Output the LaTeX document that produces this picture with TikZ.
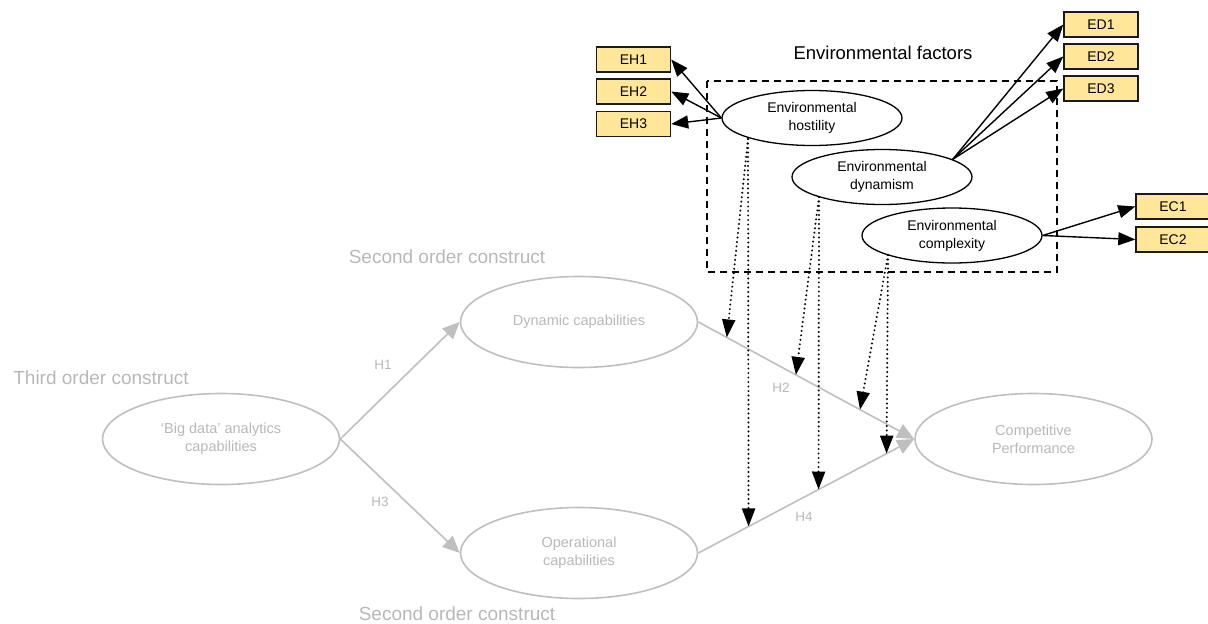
\documentclass[tikz,border=0pt]{standalone}
\usepackage{fontspec}
\setmainfont{Liberation Sans}
\usetikzlibrary{shapes.geometric,arrows.meta,calc}
\definecolor{lgray}{HTML}{BFBFBF}
\definecolor{tgray}{HTML}{B8B8B8}
\definecolor{ylw}{HTML}{FFE699}
\definecolor{bdr}{HTML}{1A1A1A}
\tikzset{
  gell/.style={ellipse,draw=lgray,line width=1.6pt,minimum width=237pt,minimum height=91pt,inner sep=0pt,
    text=tgray,font=\fontsize{14.5}{18}\selectfont,align=center},
  bell/.style={ellipse,draw=black,line width=1.3pt,minimum width=180pt,minimum height=55pt,inner sep=0pt,
    font=\fontsize{14}{18}\selectfont,align=center},
  ybox/.style={rectangle,fill=ylw,draw=bdr,line width=1.4pt,minimum width=74pt,minimum height=25pt,inner sep=0pt,
    font=\fontsize{14}{16}\selectfont},
  garrow/.style={draw=lgray,line width=1.6pt,-{Triangle[length=17pt,width=15pt,fill=lgray]}},
  barrow/.style={draw=black,line width=1.4pt,-{Triangle[length=17pt,width=13pt]}},
  darrow/.style={draw=black,line width=2.2pt,line cap=round,dash pattern=on 0pt off 4.5pt,
    -{Triangle[length=18pt,width=13pt,line cap=butt]}},
  glabel/.style={text=tgray,font=\fontsize{19}{22}\selectfont},
  hlabel/.style={text=tgray,font=\fontsize{13.5}{15}\selectfont},
}
\begin{document}
\begin{tikzpicture}[x=1pt,y=-1pt]
\useasboundingbox (0,0) rectangle (1208,624);
% environmental factors
\draw[line width=1.5pt,dash pattern=on 7pt off 5pt] (707,81) rectangle (1057,272);
\node[font=\fontsize{18.5}{21}\selectfont] (title) at (883,53) {Environmental factors};
\node[bell] (host) at (812,118) {Environmental\\hostility};
\node[bell] (dyn) at (882,177) {Environmental\\dynamism};
\node[bell] (comp) at (952,235.5) {Environmental\\complexity};
\node[ybox] (EH1) at (633.5,59.5) {EH1};
\node[ybox] (EH2) at (633.5,91.5) {EH2};
\node[ybox] (EH3) at (633.5,124) {EH3};
\node[ybox] (ED1) at (1101,24.5) {ED1};
\node[ybox] (ED2) at (1101,56.5) {ED2};
\node[ybox] (ED3) at (1101,88.5) {ED3};
\node[ybox] (EC1) at (1173,206.5) {EC1};
\node[ybox] (EC2) at (1173,239.5) {EC2};
\draw[barrow] (host.west) -- (EH1.east);
\draw[barrow] (host.west) -- (EH2.east);
\draw[barrow] (host.west) -- (EH3.east);
\coordinate (dynout) at (dyn.14);
\draw[barrow] (dynout) -- (ED1.west);
\draw[barrow] (dynout) -- (ED2.west);
\draw[barrow] (dynout) -- (ED3.west);
\draw[barrow] (comp.east) -- (EC1.west);
\draw[barrow] (comp.east) -- (EC2.west);
% structural model
\node[glabel] (third) at (101,378) {Third order construct};
\node[glabel] (sectop) at (447,257) {Second order construct};
\node[glabel] (secbot) at (457,614) {Second order construct};
\node[gell] (BD) at (221,439) {‘Big data’ analytics\\capabilities};
\node[gell] (DC) at (579,322) {Dynamic capabilities};
\node[gell] (OC) at (579,553) {Operational\\capabilities};
\node[gell] (CP) at (1033.5,439) {Competitive\\Performance};
\draw[garrow] (BD.east) -- (DC.west);
\draw[garrow] (BD.east) -- (OC.west);
\draw[garrow] (DC.east) -- (CP.west);
\draw[garrow] (OC.east) -- (CP.west);
\node[hlabel] (H1) at (383,365) {H1};
\node[hlabel] (H3) at (380,502) {H3};
\node[hlabel] (H2) at (781,388) {H2};
\node[hlabel] (H4) at (804,517) {H4};
% moderating effects
\coordinate (hs) at (748,139);
\coordinate (ds) at (819,197);
\coordinate (cs) at (888,255);
\coordinate (t1) at ($(DC.east)!0.132!(CP.west)$);
\coordinate (t2) at ($(DC.east)!0.452!(CP.west)$);
\coordinate (t3) at ($(DC.east)!0.749!(CP.west)$);
\coordinate (b1) at ($(OC.east)!0.233!(CP.west)$);
\coordinate (b2) at ($(OC.east)!0.557!(CP.west)$);
\coordinate (b3) at ($(OC.east)!0.872!(CP.west)$);
\draw[darrow] (hs) -- (t1);
\draw[darrow] (hs) -- (b1);
\draw[darrow] (ds) -- (t2);
\draw[darrow] (ds) -- (b2);
\draw[darrow] (cs) -- (t3);
\draw[darrow] (cs) -- (b3);
\end{tikzpicture}
\end{document}
